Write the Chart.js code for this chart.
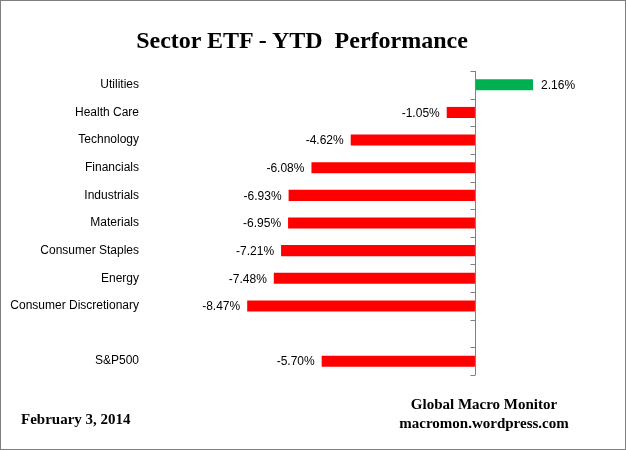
<!DOCTYPE html>
<html>
<head>
<meta charset="utf-8">
<script src="https://cdn.jsdelivr.net/npm/chart.js@4.4.1/dist/chart.umd.min.js"></script>
<style>
  html, body { margin: 0; padding: 0; background: #fff; }
  #wrap { position: relative; width: 626px; height: 450px; box-sizing: border-box; border: 1px solid #7f7f7f; }
  #c { position: absolute; left: 0; top: 0; }
  .txt { position: absolute; font-family: "Liberation Serif", "Times New Roman", serif; font-weight: bold; color: #000; white-space: nowrap; }
  #title { left: 0; width: 602px; top: 26px; text-align: center; font-size: 24px; }
  #date { left: 20px; top: 410px; font-size: 15px; }
  #src { left: 383px; width: 200px; top: 394px; text-align: center; font-size: 15px; line-height: 19px; }
</style>
</head>
<body>
<div id="wrap">
  <canvas id="c" width="624" height="448"></canvas>
  <div class="txt" id="title">Sector ETF - YTD&nbsp; Performance</div>
  <div class="txt" id="date">February 3, 2014</div>
  <div class="txt" id="src">Global Macro Monitor<br>macromon.wordpress.com</div>
</div>
<script>
var sectors = ["Utilities", "Health Care", "Technology", "Financials", "Industrials", "Materials",
               "Consumer Staples", "Energy", "Consumer Discretionary", "", "S&P500"];
var ytd = [2.16, -1.05, -4.62, -6.08, -6.93, -6.95, -7.21, -7.48, -8.47, null, -5.70];

var labelFont = '12px "Liberation Sans", Arial, sans-serif';

// zero axis line with small ticks between categories, plus value labels
var extras = {
    id: 'extras',
    afterDatasetsDraw: function (chart) {
        var ctx = chart.ctx;
        var xs = chart.scales.x, ys = chart.scales.y;
        var x0 = Math.round(xs.getPixelForValue(0)) + 0.5;
        ctx.save();
        ctx.strokeStyle = '#808080';
        ctx.lineWidth = 1;
        ctx.beginPath();
        ctx.moveTo(x0, chart.chartArea.top);
        ctx.lineTo(x0, chart.chartArea.bottom);
        var half = (ys.getPixelForValue(1) - ys.getPixelForValue(0)) / 2;
        for (var i = 0; i <= sectors.length; i++) {
            var yy = Math.round(ys.getPixelForValue(i) - half) + 0.5;
            ctx.moveTo(x0 - 5, yy);
            ctx.lineTo(x0, yy);
        }
        ctx.stroke();

        ctx.font = labelFont;
        ctx.fillStyle = '#000';
        ctx.textBaseline = 'middle';
        var meta = chart.getDatasetMeta(0);
        meta.data.forEach(function (bar, i) {
            var v = ytd[i];
            if (v === null) return;
            var s = v.toFixed(2) + '%';
            if (v < 0) {
                ctx.textAlign = 'right';
                ctx.fillText(s, bar.x - 7, bar.y + 1);
            } else {
                ctx.textAlign = 'left';
                ctx.fillText(s, bar.x + 8, bar.y + 1);
            }
        });
        ctx.restore();
    }
};

var barData = {
    labels: sectors,
    datasets: [{
        data: ytd,
        backgroundColor: ytd.map(function (v) { return v >= 0 ? '#00b050' : '#ff0000'; }),
        barPercentage: 0.4,
        categoryPercentage: 1.0
    }]
};

var barOptions = {
    indexAxis: 'y',
    responsive: false,
    animation: false,
    layout: { padding: { left: 0, right: 25, top: 70, bottom: 74 } },
    plugins: { legend: { display: false }, tooltip: { enabled: false } },
    scales: {
        x: { display: false, min: -12.27, max: 4.65 },
        y: {
            grid: { display: false, drawTicks: false },
            border: { display: false },
            ticks: { color: '#000', font: { family: '"Liberation Sans", Arial, sans-serif', size: 12 }, padding: 6, autoSkip: false },
            afterFit: function (scale) { scale.width = 144; }
        }
    }
};

var ctx = document.getElementById("c").getContext("2d");
new Chart(ctx, { type: 'bar', data: barData, options: barOptions, plugins: [extras] });
</script>
</body>
</html>
